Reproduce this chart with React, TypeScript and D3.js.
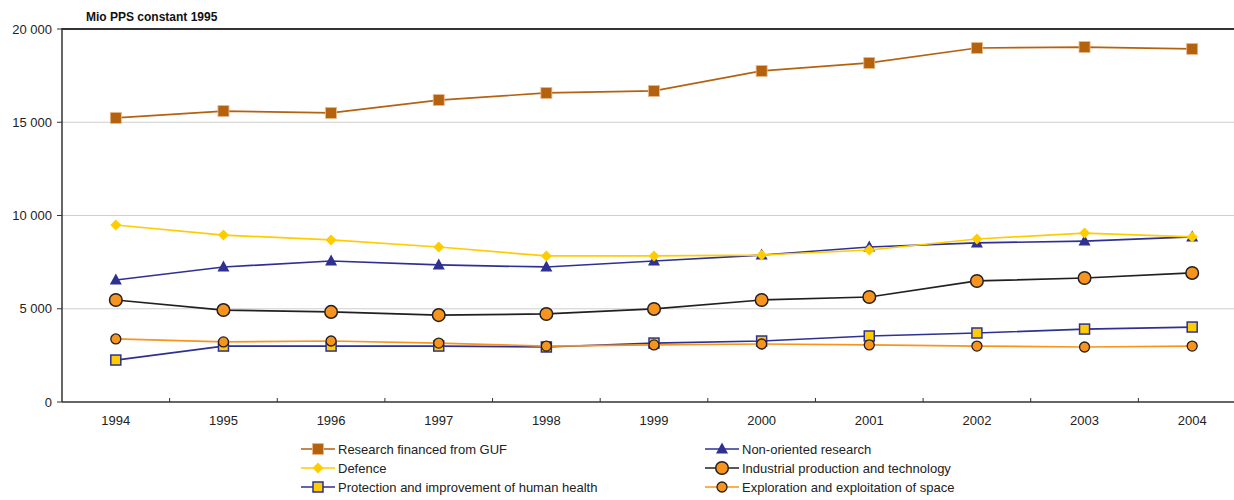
import React from "react";
import * as d3 from "d3";

const years = ["1994", "1995", "1996", "1997", "1998", "1999", "2000", "2001", "2002", "2003", "2004"];
const guf = [15230, 15600, 15500, 16190, 16570, 16680, 17750, 18180, 18980, 19030, 18930];
const nonOriented = [6540, 7240, 7560, 7350, 7240, 7560, 7880, 8310, 8530, 8630, 8850];
const defence = [9490, 8950, 8690, 8310, 7830, 7830, 7880, 8150, 8740, 9060, 8850];
const industrial = [5470, 4930, 4830, 4660, 4720, 4990, 5470, 5630, 6490, 6650, 6920];
const health = [2250, 3000, 3000, 3000, 2950, 3160, 3270, 3540, 3700, 3910, 4020];
const space = [3380, 3220, 3270, 3160, 3000, 3060, 3110, 3060, 3000, 2950, 3000];
const yTicks = [0, 5000, 10000, 15000, 20000];
const unitLabel = "Mio PPS constant 1995";

type Marker = "square" | "triangle" | "diamond" | "circle" | "circleSmall" | "squareOutline";
interface Series { name: string; values: number[]; line: string; fill: string; stroke: string; marker: Marker; }

const series: Series[] = [
  { name: "Research financed from GUF", values: guf, line: "#B5620F", fill: "#B5620F", stroke: "#E8B88A", marker: "square" },
  { name: "Non-oriented research", values: nonOriented, line: "#2E3192", fill: "#2E3192", stroke: "#2E3192", marker: "triangle" },
  { name: "Defence", values: defence, line: "#FFCC00", fill: "#FFCC00", stroke: "#FFCC00", marker: "diamond" },
  { name: "Industrial production and technology", values: industrial, line: "#231F20", fill: "#F7941D", stroke: "#231F20", marker: "circle" },
  { name: "Protection and improvement of human health", values: health, line: "#2E3192", fill: "#FFCC00", stroke: "#2E3192", marker: "squareOutline" },
  { name: "Exploration and exploitation of space", values: space, line: "#F7941D", fill: "#F7941D", stroke: "#231F20", marker: "circleSmall" },
];

const legendOrder = [0, 1, 2, 3, 4, 5];

function MarkerShape({ m, x, y, s }: { m: Marker; x: number; y: number; s: Series }) {
  switch (m) {
    case "square":
      return <rect x={x - 5.5} y={y - 5.5} width={11} height={11} fill={s.fill} stroke={s.stroke} strokeWidth={0.8} />;
    case "squareOutline":
      return <rect x={x - 5} y={y - 5} width={10} height={10} fill={s.fill} stroke={s.stroke} strokeWidth={1.5} />;
    case "triangle":
      return <path d={`M${x},${y - 6.5}L${x + 6},${y + 4.5}L${x - 6},${y + 4.5}Z`} fill={s.fill} />;
    case "diamond":
      return <path d={`M${x},${y - 5.5}L${x + 5.5},${y}L${x},${y + 5.5}L${x - 5.5},${y}Z`} fill={s.fill} />;
    case "circle":
      return <circle cx={x} cy={y} r={6.3} fill={s.fill} stroke={s.stroke} strokeWidth={1.5} />;
    case "circleSmall":
      return <circle cx={x} cy={y} r={5} fill={s.fill} stroke={s.stroke} strokeWidth={1.3} />;
  }
}

export default function App() {
  const W = 1234, H = 500;
  const left = 62, right = 1246, top = 29, bottom = 402;
  const x = d3.scaleBand<string>().domain(years).range([left, right]);
  const y = d3.scaleLinear().domain([0, 20000]).range([bottom, top]);
  const fmt = (v: number) => d3.format(",")(v).replace(/,/g, " ");
  const font = "'Liberation Sans', Arial, sans-serif";
  const cx = (yr: string) => (x(yr) as number) + x.bandwidth() / 2;

  const legendPos = (i: number) => {
    const col = i % 2, row = Math.floor(i / 2);
    return { lx: col === 0 ? 301 : 705, ly: 449 + row * 19 };
  };

  return (
    <div style={{ position: "absolute", left: 0, top: 0 }}>
      <svg width={W} height={H} style={{ display: "block", fontFamily: font }}>
        <rect width={W} height={H} fill="#fff" />
        <text x={86} y={21} fontSize={12} fontWeight="bold" fill="#111">{unitLabel}</text>
        {yTicks.filter(t => t > 0 && t < 20000).map(t => (
          <line key={t} x1={left} x2={W} y1={y(t)} y2={y(t)} stroke="#cfcfcf" strokeWidth={1.2} />
        ))}
        {yTicks.map(t => (
          <g key={"yt" + t}>
            <line x1={left - 5} x2={left} y1={y(t)} y2={y(t)} stroke="#333" />
            <text x={52} y={y(t)} dy="0.35em" fontSize={13} textAnchor="end" fill="#222">{fmt(t)}</text>
          </g>
        ))}
        <line x1={left} x2={W} y1={top} y2={top} stroke="#333" strokeWidth={2} />
        <line x1={left} x2={left} y1={top - 1} y2={bottom} stroke="#333" strokeWidth={1.5} />
        <line x1={left} x2={W} y1={bottom} y2={bottom} stroke="#333" strokeWidth={1.5} />
        {years.slice(1).map(yr => (
          <line key={"xt" + yr} x1={x(yr) as number} x2={x(yr) as number} y1={bottom} y2={bottom - 4} stroke="#333" />
        ))}
        {years.map(yr => (
          <text key={"xl" + yr} x={cx(yr)} y={425} fontSize={13} textAnchor="middle" fill="#222">{yr}</text>
        ))}
        {series.map(s => {
          const line = d3.line<number>().x((_, i) => cx(years[i])).y(v => y(v));
          return (
            <g key={s.name}>
              <path d={line(s.values) || ""} fill="none" stroke={s.line} strokeWidth={1.7} />
              {s.values.map((v, i) => (
                <MarkerShape key={i} m={s.marker} x={cx(years[i])} y={y(v)} s={s} />
              ))}
            </g>
          );
        })}
        {legendOrder.map(i => {
          const s = series[i];
          const { lx, ly } = legendPos(i);
          return (
            <g key={"lg" + i}>
              <line x1={lx} x2={lx + 34} y1={ly} y2={ly} stroke={s.line} strokeWidth={1.7} />
              <MarkerShape m={s.marker} x={lx + 17} y={ly} s={s} />
              <text x={lx + 37} y={ly} dy="0.35em" fontSize={13} fill="#222">{s.name}</text>
            </g>
          );
        })}
      </svg>
    </div>
  );
}
